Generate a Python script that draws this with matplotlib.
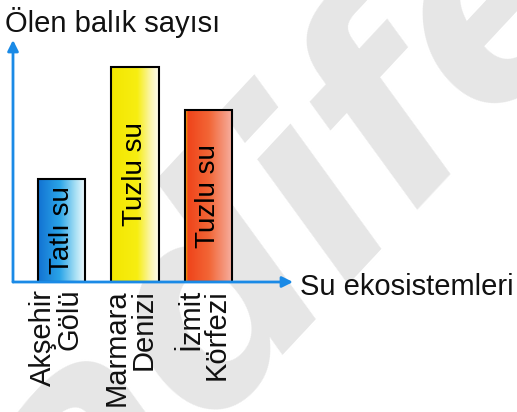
import matplotlib
matplotlib.use("Agg")
import matplotlib.pyplot as plt
import matplotlib.transforms as mtransforms
from matplotlib.colors import LinearSegmentedColormap
import numpy as np

# ---- data ----
categories = ["Akşehir\nGölü", "Marmara\nDenizi", "İzmit\nKörfezi"]
bar_texts = ["Tatlı su", "Tuzlu su", "Tuzlu su"]
fish_deaths = [103, 215, 172]          # relative values (no scale on chart)
y_title = "Ölen balık sayısı"
x_title = "Su ekosistemleri"
watermark = "adife"

# ---- styles ----
gradients = [
    [(0.0, "#1272d2"), (0.45, "#2aa4e8"), (0.78, "#a6dff4"), (1.0, "#f6fcff")],
    [(0.0, "#f3e600"), (0.55, "#f7ee12"), (0.82, "#fbf5a8"), (1.0, "#fffdf0")],
    [(0.0, "#f6d200"), (0.06, "#ef441a"), (0.5, "#f26636"), (0.85, "#f59a82"), (1.0, "#f7b2a4")],
]
blue = "#1a8ae6"
W, H, DPI = 517, 412, 100
FS = 21
plt.rcParams["font.family"] = ["Liberation Sans", "DejaVu Sans"]

fig = plt.figure(figsize=(W / DPI, H / DPI), dpi=DPI)
fig.patch.set_facecolor("white")

# watermark (behind everything)
fig.text(292 / W, 1 - 228 / H, watermark, fontsize=200, fontweight="bold",
         fontstyle="italic", color="#e6e6e6",
         rotation=47, ha="center", va="center", zorder=-10,
         family=["DejaVu Sans"])

ax = fig.add_axes([13 / W, (H - 282) / H, (293 - 13) / W, (282 - 40) / H])
ax.patch.set_alpha(0)
for s in ax.spines.values():
    s.set_visible(False)
ax.set_xticks([])
ax.set_yticks([])

x = np.arange(len(categories))
bw = 0.64
bars = ax.bar(x, fish_deaths, width=bw, facecolor="none", edgecolor="black",
              linewidth=1.5, zorder=3)
for b, grad in zip(bars, gradients):
    cmap = LinearSegmentedColormap.from_list("g", grad)
    img = np.linspace(0, 1, 256).reshape(1, -1)
    ax.imshow(img, cmap=cmap, aspect="auto", zorder=2,
              extent=(b.get_x(), b.get_x() + b.get_width(), 0, b.get_height()))
for xi, h, t in zip(x, fish_deaths, bar_texts):
    ax.text(xi, h / 2, t, rotation=90, ha="center", va="center",
            fontsize=FS - 1, color="black", zorder=4)

ax.set_xlim(-0.66, 3.15)
ax.set_ylim(0, 242)

# axis arrows
ax.annotate("", xy=(0, 1), xytext=(0, 0), xycoords="axes fraction",
            arrowprops=dict(arrowstyle="-|>", color=blue, lw=2, mutation_scale=16,
                            shrinkA=0, shrinkB=0), zorder=5)
ax.annotate("", xy=(1, 0), xytext=(0, 0), xycoords="axes fraction",
            arrowprops=dict(arrowstyle="-|>", color=blue, lw=2, mutation_scale=16,
                            shrinkA=0, shrinkB=0), zorder=5)

# category labels
trans = mtransforms.blended_transform_factory(ax.transData, ax.transAxes)
off = mtransforms.ScaledTranslation(-5 / DPI, -7 / DPI, fig.dpi_scale_trans)
for xi, c in zip(x, categories):
    ax.text(xi, 0, c, transform=trans + off, rotation=90, ha="center", va="top",
            multialignment="right", fontsize=FS, linespacing=0.95, color="#111111")

fig.text(5 / W, 1 - 32 / H, y_title, fontsize=FS, ha="left", va="baseline", color="#111111")
fig.text(300 / W, 1 - 295 / H, x_title, fontsize=FS, ha="left", va="baseline", color="#111111")

fig.savefig("out.png", dpi=DPI)
